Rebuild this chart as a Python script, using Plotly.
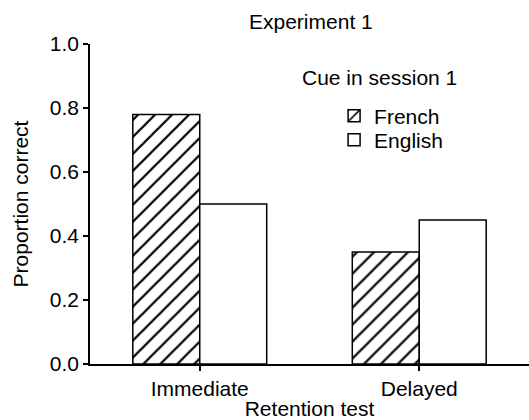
import plotly.graph_objects as go

categories = ["Immediate", "Delayed"]
french = [0.78, 0.35]
english = [0.50, 0.45]
series_names = ["French", "English"]
y_ticks = [0.0, 0.2, 0.4, 0.6, 0.8, 1.0]
y_tick_labels = ["0.0", "0.2", "0.4", "0.6", "0.8", "1.0"]

FONT = "Liberation Sans, Arial, Helvetica, sans-serif"
FS = 21

x_pos = list(range(len(categories)))

fig = go.Figure()
fig.add_trace(go.Bar(
    x=x_pos, y=french, name=series_names[0], legend="legend",
    marker=dict(color="white", line=dict(color="black", width=1.5),
                pattern=dict(shape="/", fgcolor="black", bgcolor="white",
                             fgopacity=1, size=12, solidity=0.19)),
))
fig.add_trace(go.Bar(
    x=x_pos, y=english, name=series_names[1], legend="legend2",
    marker=dict(color="white", line=dict(color="black", width=1.5)),
))

legend_common = dict(xanchor="left", yanchor="middle",
                     font=dict(size=FS, family=FONT, color="black"),
                     bgcolor="rgba(0,0,0,0)", itemwidth=30)

fig.update_layout(
    width=529, height=420,
    margin=dict(l=90, r=0, t=44, b=56),
    paper_bgcolor="white", plot_bgcolor="white",
    font=dict(family=FONT, size=FS, color="black"),
    barmode="group", bargap=0.39, bargroupgap=0,
    showlegend=True,
    legend=dict(x=0.556, y=(364 - 116) / 320, **legend_common),
    legend2=dict(x=0.556, y=(364 - 140) / 320, **legend_common),
    xaxis=dict(range=[-0.5, 1.5], tickvals=x_pos, ticktext=categories,
               tickfont=dict(size=FS),
               showline=True, linecolor="black", linewidth=1.5,
               ticks="outside", ticklen=5, tickwidth=1.5, tickcolor="black",
               showgrid=False, zeroline=False,
               title=dict(text="Retention test", standoff=6,
                          font=dict(size=FS))),
    yaxis=dict(range=[0, 1], tickvals=y_ticks, ticktext=y_tick_labels,
               tickfont=dict(size=FS),
               showline=True, linecolor="black", linewidth=1.5,
               ticks="outside", ticklen=5, tickwidth=1.5, tickcolor="black",
               showgrid=False, zeroline=False,
               title=dict(text="Proportion correct", standoff=15,
                          font=dict(size=FS))),
    annotations=[
        dict(text="Experiment 1", x=(311 - 90) / 439, y=(364 - 22) / 320,
             xref="paper", yref="paper", xanchor="center", yanchor="middle",
             showarrow=False, font=dict(size=FS)),
        dict(text="Cue in session 1", x=(379 - 90) / 439, y=(364 - 78) / 320,
             xref="paper", yref="paper", xanchor="center", yanchor="middle",
             showarrow=False, font=dict(size=FS)),
    ],
)

fig.write_html("out.html")
